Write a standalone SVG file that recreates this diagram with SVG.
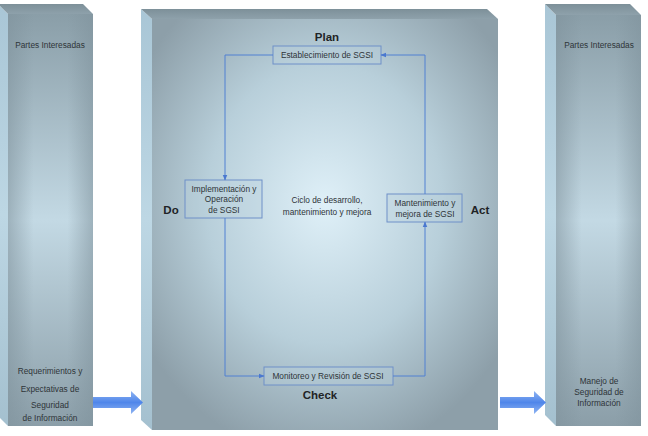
<svg xmlns="http://www.w3.org/2000/svg" width="648" height="436" viewBox="0 0 648 436">
<defs>
<linearGradient id="sideG" x1="0" y1="0" x2="0" y2="1">
<stop offset="0" stop-color="#a9c6d6"/><stop offset="0.5" stop-color="#bdd7e4"/><stop offset="1" stop-color="#a4c0cf"/>
</linearGradient>
<linearGradient id="topG" x1="0" y1="0" x2="0" y2="1">
<stop offset="0" stop-color="#7d9099"/><stop offset="1" stop-color="#8ea1ab"/>
</linearGradient>
<linearGradient id="panelV" x1="0" y1="0" x2="0" y2="1">
<stop offset="0" stop-color="#8a9ea8"/><stop offset="0.5" stop-color="#c3d9e4"/><stop offset="1" stop-color="#8b9ea8"/>
</linearGradient>
<linearGradient id="panelH" x1="0" y1="0" x2="1" y2="0">
<stop offset="0" stop-color="#7f929c" stop-opacity="0.55"/><stop offset="0.3" stop-color="#7f929c" stop-opacity="0"/><stop offset="0.7" stop-color="#7f929c" stop-opacity="0"/><stop offset="1" stop-color="#7f929c" stop-opacity="0.55"/>
</linearGradient>
<radialGradient id="midG" cx="0.5" cy="0.45" r="0.62">
<stop offset="0" stop-color="#dff0f8"/><stop offset="0.55" stop-color="#b8cfda"/><stop offset="1" stop-color="#8d9fa9"/>
</radialGradient>
<linearGradient id="arrowG" x1="0" y1="0" x2="0" y2="1">
<stop offset="0" stop-color="#8fb4f2"/><stop offset="0.5" stop-color="#4f86ea"/><stop offset="1" stop-color="#8fb4f2"/>
</linearGradient>
<marker id="ah" viewBox="0 0 10 10" refX="9" refY="5" markerWidth="6" markerHeight="6" orient="auto">
<path d="M0,1 L10,5 L0,9 z" fill="#4a78d0"/>
</marker>
</defs>
<style>
.t{font-family:"Liberation Sans",Arial,sans-serif;font-size:8.3px;fill:#2e3438;text-anchor:middle}
.b{font-family:"Liberation Sans",Arial,sans-serif;font-size:11.5px;font-weight:bold;fill:#1f2326;text-anchor:middle}
.box{fill:#b9d0dc;fill-opacity:0.35;stroke:#6f90c8;stroke-width:1}
.con{fill:none;stroke:#5080d2;stroke-width:1}
</style>
<rect width="648" height="436" fill="#ffffff"/>

<g id="left-panel">
<polygon points="-2,4 8,14 8,426 -2,416" fill="url(#sideG)"/>
<polygon points="-2,4 83,4 93,14 8,14" fill="url(#topG)"/>
<rect x="8" y="14" width="85" height="412" fill="url(#panelV)"/>
<rect x="8" y="14" width="85" height="412" fill="url(#panelH)"/>
<text class="t" x="50" y="48">Partes Interesadas</text>
<text class="t" x="50" y="374">Requerimientos y</text>
<text class="t" x="50" y="392">Expectativas de</text>
<text class="t" x="50" y="408">Seguridad</text>
<text class="t" x="50" y="421">de Información</text>
</g>

<g id="center-panel">
<polygon points="141,9 152,19 152,430 141,420" fill="url(#sideG)"/>
<polygon points="141,9 487,9 498,19 152,19" fill="url(#topG)"/>
<rect x="152" y="19" width="346" height="411" fill="url(#midG)"/>
<text class="b" x="327" y="41">Plan</text>
<text class="b" x="171" y="214">Do</text>
<text class="b" x="480" y="214">Act</text>
<text class="b" x="320" y="399">Check</text>
<text class="t" x="327" y="203">Ciclo de desarrollo,</text>
<text class="t" x="327" y="215">mantenimiento y mejora</text>
</g>

<g id="right-panel">
<polygon points="545,4 556,15 556,426 545,415" fill="url(#sideG)"/>
<polygon points="545,4 630,4 641,15 556,15" fill="url(#topG)"/>
<rect x="556" y="15" width="85" height="411" fill="url(#panelV)"/>
<rect x="556" y="15" width="85" height="411" fill="url(#panelH)"/>
<text class="t" x="599" y="48">Partes Interesadas</text>
<text class="t" x="599" y="384">Manejo de</text>
<text class="t" x="599" y="395">Seguridad de</text>
<text class="t" x="599" y="406">Información</text>
</g>

<g id="plan-box">
<rect class="box" x="273" y="46" width="108" height="18"/>
<text class="t" x="327" y="58">Establecimiento de SGSI</text>
</g>
<g id="do-box">
<rect class="box" x="185" y="180" width="77" height="38"/>
<text class="t" x="224" y="192">Implementación y</text>
<text class="t" x="224" y="202">Operación</text>
<text class="t" x="224" y="213">de SGSI</text>
</g>
<g id="act-box">
<rect class="box" x="387" y="194" width="75" height="28"/>
<text class="t" x="425" y="206">Mantenimiento y</text>
<text class="t" x="425" y="217">mejora de SGSI</text>
</g>
<g id="check-box">
<rect class="box" x="264" y="367" width="129" height="18"/>
<text class="t" x="328" y="379">Monitoreo y Revisión de SGSI</text>
</g>

<g id="connectors">
<path class="con" d="M273,55 H225 V180" marker-end="url(#ah)"/>
<path class="con" d="M225,218 V376 H264" marker-end="url(#ah)"/>
<path class="con" d="M393,376 H425 V222" marker-end="url(#ah)"/>
<path class="con" d="M425,194 V55 H381" marker-end="url(#ah)"/>
<polygon points="93,397 131,397 131,391 143,402.5 131,414 131,408 93,408" fill="url(#arrowG)"/>
<polygon points="500,397 534,397 534,391 546,402.5 534,414 534,408 500,408" fill="url(#arrowG)"/>
</g>
</svg>
